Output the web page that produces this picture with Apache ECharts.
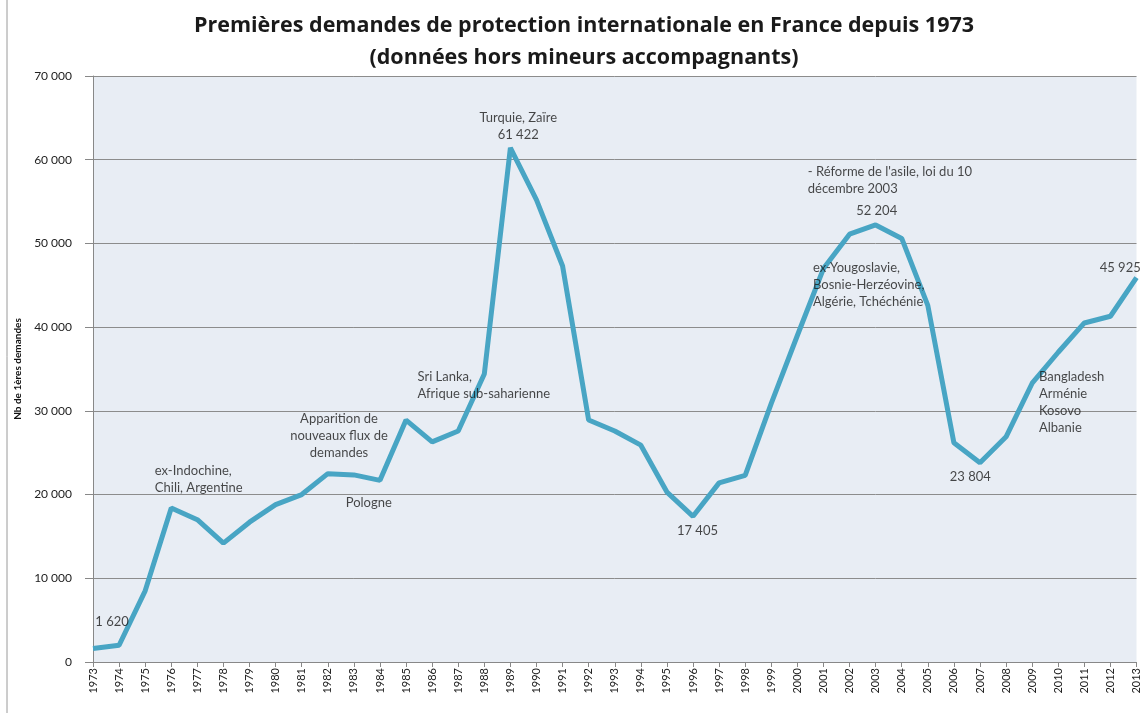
<!DOCTYPE html>
<html><head><meta charset="utf-8">
<script src="https://cdn.jsdelivr.net/npm/echarts@6/dist/echarts.min.js"></script>
<style>html,body{margin:0;padding:0;background:#fff}#c{width:1142px;height:713px}</style>
</head><body><div id="c"></div>
<script>
const years = [1973,1974,1975,1976,1977,1978,1979,1980,1981,1982,1983,1984,1985,1986,1987,1988,1989,1990,1991,1992,1993,1994,1995,1996,1997,1998,1999,2000,2001,2002,2003,2004,2005,2006,2007,2008,2009,2010,2011,2012,2013];
const demandes = [1620,2000,8500,18400,17000,14200,16700,18800,20000,22500,22350,21700,28900,26300,27600,34400,61422,55200,47300,28900,27600,25900,20300,17405,21400,22300,30900,39000,47000,51100,52204,50600,42600,26200,23804,26900,33300,37000,40500,41300,45925];
const annoText = ["1 620","ex-Indochine,\nChili, Argentine","Pologne","Apparition de\nnouveaux flux de\ndemandes","Sri Lanka,\nAfrique sub-saharienne","Turquie, Zaïre\n61 422","- Réforme de l'asile, loi du 10\ndécembre 2003","52 204","ex-Yougoslavie,\nBosnie-Herzéovine,\nAlgérie, Tchéchénie","45 925","17 405","23 804","Bangladesh\nArménie\nKosovo\nAlbanie"];
const annoX = [1973.73,1975.37,1983.57,1982.43,1985.44,1989.30,2000.40,2003.04,2000.60,2011.59,1996.17,2006.63,2009.26];
const annoY = [4780,21860,19000,27000,33030,63980,57530,53880,45040,47070,15650,22100,31060];
const annoAlign = ["center","left","center","center","left","center","left","center","left","left","center","center","left"];
const titleText = 'Premières demandes de protection internationale en France depuis 1973\n(données hors mineurs accompagnants)';

const fmt = v => String(v).replace(/\B(?=(\d{3})+(?!\d))/g, ' ');
const chart = echarts.init(document.getElementById('c'), null, {renderer:'canvas'});
chart.setOption({
  animation:false,
  textStyle:{fontFamily:'Lato'},
  graphic:[
    {type:'line', shape:{x1:7,y1:0,x2:7,y2:713}, style:{stroke:'#9a9a9a', lineWidth:1}},
    {type:'text', x:584, y:10, style:{text:titleText, align:'center', verticalAlign:'top',
      font:'bold 21.5px "Open Sans"', fill:'#1a1a1a', lineHeight:32}}
  ],
  grid:{left:93, right:1, top:76, bottom:51, show:true, backgroundColor:'#e8edf4', borderWidth:0},
  xAxis:{
    type:'value', min:1973, max:2013, interval:1,
    axisLine:{lineStyle:{color:'#888'}},
    axisTick:{show:true, length:5, lineStyle:{color:'#888'}},
    axisLabel:{rotate:90, fontSize:11, color:'#222', formatter:v=>String(v), margin:6},
    splitLine:{show:false}
  },
  yAxis:{
    type:'value', min:0, max:70000, interval:10000,
    name:'Nb de 1ères demandes', nameLocation:'middle', nameGap:70,
    nameTextStyle:{fontSize:10, fontWeight:'bold', color:'#111'},
    axisLine:{show:true, lineStyle:{color:'#888'}},
    axisTick:{show:true, length:8, lineStyle:{color:'#888'}},
    axisLabel:{fontSize:12, color:'#222', formatter:fmt, margin:21},
    splitLine:{lineStyle:{color:'#8c8c8c', width:1}}
  },
  series:[
    {type:'line', data: years.map((y,i)=>[y, demandes[i]]), symbol:'none',
     lineStyle:{color:'#48a5c4', width:5}, z:3},
    {type:'scatter', symbolSize:0, z:5, silent:true,
     data: annoText.map((t,i)=>({value:[annoX[i], annoY[i]], label:{align:annoAlign[i]}, name:t})),
     label:{show:true, position:'inside', formatter:p=>p.name, fontSize:13, color:'#1a1a1a', lineHeight:17, verticalAlign:'middle'}
    }
  ]
});
</script></body></html>
